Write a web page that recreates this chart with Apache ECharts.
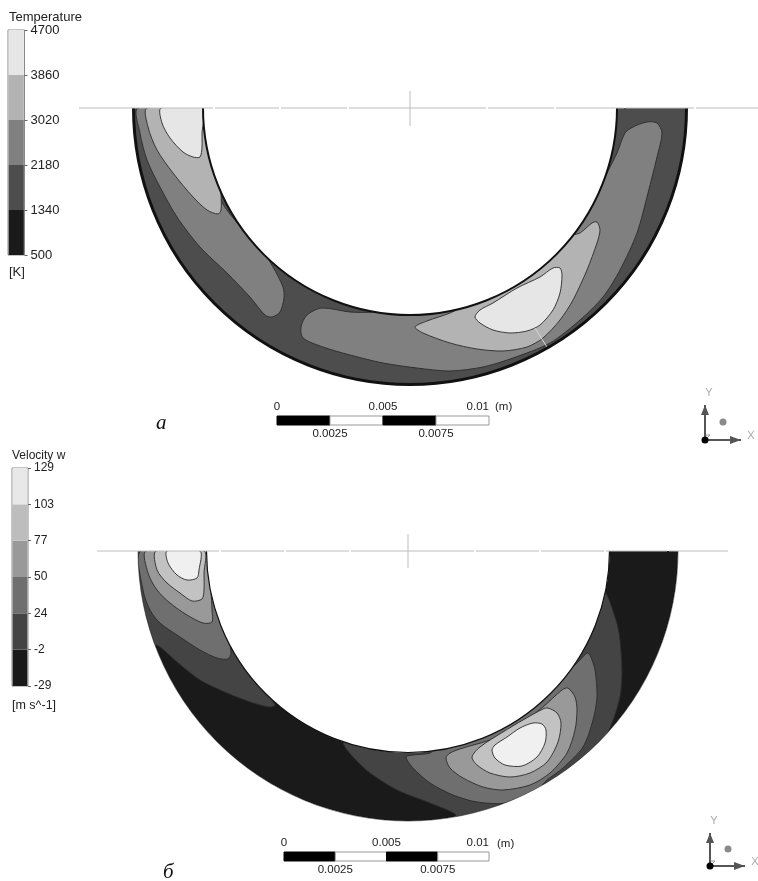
<!DOCTYPE html>
<html><head><meta charset="utf-8">
<style>html,body{margin:0;padding:0;background:#fff}#c{width:758px;height:881px}</style>
<script src="https://cdn.jsdelivr.net/npm/echarts@6/dist/echarts.min.js"></script>
</head><body><div id="c"></div>
<script>
// Scene coordinates: offset from the axis of each annulus, y pointing down
const tempLevels = ['500','1340','2180','3020','3860','4700'];
const tempColors = ['#1a1a1a','#4d4d4d','#808080','#b3b3b3','#e6e6e6'];
const velLevels = ['-29','-2','24','50','77','103','129'];
const velColors = ['#1a1a1a','#444444','#6f6f6f','#999999','#bdbdbd','#e8e8e8'];
const scaleTopTicks = ['0','0.005','0.01'];
const scaleBottomTicks = ['0.0025','0.0075'];

const tempRing = {outer:276.5, inner:207};
const velRing = {outer:270, inner:201.5};

// Temperature contours
const tempGrayLeft = [[-272,0],[-270,25],[-263,52],[-250,79],[-233,109],[-210,139],[-183,165],[-160,189],[-145,207],[-138,209],[-130,204],[-126,190],[-127,179],[-137,159],[-148,142],[-165,124],[-190,90],[-195,40],[-197,0]];
const tempLightLeft = [[-263,0],[-262,19],[-253,42],[-237,65],[-217,89],[-203,102],[-192,106],[-189,102],[-189,85],[-190,60],[-198,30],[-198,0]];
const tempCoreLeft = [[-249,0],[-248,15],[-240,30],[-227,44],[-217,49],[-210,49],[-208,39],[-208,25],[-207,0]];
const tempGrayRight = [[252,25],[247,49],[238,85],[227,125],[210,162],[193,189],[170,212],[140,235],[103,250],[73,259],[40,263],[7,260],[-27,255],[-60,247],[-87,239],[-107,230],[-109,219],[-103,207],[-88,200],[-60,204],[-35,204],[-10,200],[100,170],[180,98],[200,59],[207,45],[215,25],[223,19],[237,14],[247,15]];
const tempLightRight = [[5,219],[13,225],[40,235],[67,241],[93,243],[117,239],[133,230],[150,212],[163,192],[177,162],[187,135],[190,122],[187,114],[182,115],[170,125],[160,128],[100,175],[60,195],[40,205],[17,213]];
const tempCoreRight = [[65,209],[70,215],[83,222],[100,225],[117,223],[130,217],[143,202],[150,185],[152,167],[150,160],[143,160],[130,169],[107,180],[83,195],[70,202]];
const tempStreak = [[125,220],[137,239]];

// Velocity contours
const velBand2Left = [[-275,0],[-270,60],[-255,98],[-251,94],[-231,111],[-208,129],[-181,142],[-155,152],[-138,156],[-133,154],[-150,130],[-190,60],[-195,0]];
const velBand3Left = [[-267,0],[-265,39],[-258,59],[-248,72],[-228,86],[-208,99],[-191,107],[-180,108],[-177,102],[-180,85],[-195,40],[-197,0]];
const velBand4Left = [[-262,0],[-260,22],[-251,39],[-238,52],[-221,64],[-205,72],[-196,71],[-196,59],[-197,40],[-198,0]];
const velBand5Left = [[-252,0],[-251,19],[-241,32],[-228,42],[-216,50],[-206,48],[-204,39],[-204,22],[-204,0]];
const velBand6Left = [[-241,0],[-240,12],[-231,24],[-221,29],[-211,27],[-209,19],[-208,0]];
const velBand2Right = [[195,40],[208,69],[212,89],[214,122],[212,146],[204,172],[190,200],[150,235],[100,258],[50,270],[47,263],[22,252],[-11,239],[-38,222],[-55,206],[-65,192],[-60,185],[0,190],[100,165],[170,100]];
const velBand3Right = [[-2,206],[5,217],[22,232],[45,244],[69,251],[99,252],[129,239],[139,229],[155,217],[175,196],[185,169],[189,146],[187,119],[182,104],[179,102],[172,109],[150,130],[80,180],[30,195],[22,202],[5,204]];
const velBand4Right = [[38,207],[42,217],[55,227],[75,236],[95,239],[122,234],[142,222],[159,202],[167,179],[169,159],[167,146],[160,137],[154,139],[135,156],[109,176],[82,189],[55,197],[42,202]];
const velBand5Right = [[64,206],[69,214],[82,222],[102,226],[122,222],[139,211],[150,191],[153,172],[149,162],[140,157],[135,158],[115,169],[95,181],[72,196]];
const velBand6Right = [[84,199],[87,207],[97,214],[114,215],[129,206],[137,192],[138,179],[134,173],[125,172],[112,177],[99,186],[87,194]];

// Symmetry line pieces
const tempAxisLine = [[-331,-197],[-195,-131],[-129,-63],[-61,76],[78,144],[146,214],[216,284],[286,348]];
const velAxisLine = [[-311,-189],[-187,-124],[-122,-59],[-57,66],[68,131],[133,196],[198,259],[261,320]];

// Orientation triads: origin, Y tip, X tip, ball
const tempTriad = [[295,332],[295,297],[331,332],[313,314]];
const velTriad = [[302,315],[302,282],[337,315],[320,298]];

const FONT = '"Liberation Sans", Arial, sans-serif';

function contour(pts, idx, fill, stroke, smooth) {
  return {
    type:'custom', coordinateSystem:'cartesian2d', xAxisIndex:idx, yAxisIndex:idx,
    silent:true, clip:false, animation:false, data:pts,
    renderItem(p, api){
      if (p.dataIndex !== 0) return null;
      return {type:'polygon', shape:{points:pts.map(q=>api.coord(q)), smooth: smooth===undefined?0.28:smooth},
        style:{fill, stroke:stroke||'#2a2a2a', lineWidth:0.9}};
    }
  };
}
function ringLayer(ring, idx, mode, fill, edgeOuter, edgeInner) {
  return {
    type:'custom', coordinateSystem:'cartesian2d', xAxisIndex:idx, yAxisIndex:idx,
    silent:true, clip:false, animation:false, data:[[0,0]],
    renderItem(p, api){
      const c = api.coord([0,0]);
      const R = api.size([ring.outer,0])[0], r = api.size([ring.inner,0])[0];
      const sec = (r0,r1,f)=>({type:'sector',shape:{cx:c[0],cy:c[1],r0,r:r1,startAngle:0,endAngle:Math.PI,clockwise:true},style:{fill:f}});
      const arc = (rr,w,col)=>({type:'arc',shape:{cx:c[0],cy:c[1],r:rr,startAngle:0,endAngle:Math.PI,clockwise:true},style:{fill:null,stroke:col,lineWidth:w}});
      if (mode==='base') return sec(r,R,fill);
      return {type:'group',children:[
        sec(0,r,'#fff'),sec(R,R+14,'#fff'),
        {type:'rect',shape:{x:c[0]-R-14,y:c[1]-14,width:2*R+28,height:14},style:{fill:'#fff'}},
        arc(R,edgeOuter,'#111'),arc(r,edgeInner,'#111')]};
    }
  };
}
function linePieces(rows, idx, color) {
  return {
    type:'custom', coordinateSystem:'cartesian2d', xAxisIndex:idx, yAxisIndex:idx,
    silent:true, clip:false, animation:false, data:rows,
    renderItem(p, api){
      const a=api.coord([api.value(0),0]), b=api.coord([api.value(1),0]);
      return {type:'line',shape:{x1:a[0],y1:a[1],x2:b[0],y2:b[1]},style:{stroke:color,lineWidth:1}};
    }
  };
}
function segment(rows, idx, color, w) {
  return {
    type:'custom', coordinateSystem:'cartesian2d', xAxisIndex:idx, yAxisIndex:idx,
    silent:true, clip:false, animation:false, data:[rows[0]],
    renderItem(p, api){
      const a=api.coord(rows[0]), b=api.coord(rows[1]);
      return {type:'line',shape:{x1:a[0],y1:a[1],x2:b[0],y2:b[1]},style:{stroke:color,lineWidth:w}};
    }
  };
}
function triad(t, idx) {
  return {
    type:'custom', coordinateSystem:'cartesian2d', xAxisIndex:idx, yAxisIndex:idx,
    silent:true, clip:false, animation:false, data:[t[0]],
    renderItem(p, api){
      const [o,y,x,b]=t.map(q=>api.coord(q));
      const L=(a,c)=>({type:'line',shape:{x1:a[0],y1:a[1],x2:c[0],y2:c[1]},style:{stroke:'#555',lineWidth:2}});
      return {type:'group',children:[
        L(o,y),L(o,x),
        {type:'polygon',shape:{points:[[y[0],y[1]],[y[0]-4,y[1]+10],[y[0]+4,y[1]+10]]},style:{fill:'#555'}},
        {type:'polygon',shape:{points:[[x[0],x[1]],[x[0]-11,x[1]-4],[x[0]-11,x[1]+4]]},style:{fill:'#555'}},
        {type:'line',shape:{x1:o[0]+1,y1:o[1]-5,x2:o[0]+5,y2:o[1]-5},style:{stroke:'#999',lineWidth:1}},
        {type:'line',shape:{x1:o[0]+5,y1:o[1]-5,x2:o[0]+1,y2:o[1]-1},style:{stroke:'#999',lineWidth:1}},
        {type:'circle',shape:{cx:o[0],cy:o[1],r:3.5},style:{fill:'#000'}},
        {type:'circle',shape:{cx:b[0],cy:b[1],r:3.5},style:{fill:'#8a8a8a'}},
        {type:'text',x:y[0]+4,y:y[1]-12,style:{text:'Y',fill:'#aaa',font:'11px '+FONT,textAlign:'center',textVerticalAlign:'middle'}},
        {type:'text',x:x[0]+10,y:x[1]-4,style:{text:'X',fill:'#aaa',font:'11px '+FONT,textAlign:'center',textVerticalAlign:'middle'}}
      ]};
    }
  };
}
function legendBars(colors, xi, yi) {
  return colors.map((c,i)=>({
    type:'bar', stack:'l'+yi, xAxisIndex:xi, yAxisIndex:yi, data:[1], barWidth:'92%',
    silent:true, animation:false, itemStyle:{color:c}
  }));
}
function scaleBar(idxX, idxY) {
  // alternating black and white quarters of the 0.01 m scale
  const rows=[[0,0.0025,1],[0.0025,0.005,0],[0.005,0.0075,1],[0.0075,0.01,0]];
  return {
    type:'custom', coordinateSystem:'cartesian2d', xAxisIndex:idxX, yAxisIndex:idxY,
    silent:true, animation:false, clip:false, data:rows,
    renderItem(p, api){
      const a=api.coord([api.value(0),0]), b=api.coord([api.value(1),1]);
      return {type:'rect',shape:{x:a[0],y:b[1],width:b[0]-a[0],height:a[1]-b[1]},
        style:{fill:api.value(2)?'#000':'#fff',stroke:api.value(2)?'#000':'#999',lineWidth:1}};
    }
  };
}
const hidden = (min,max,extra)=>Object.assign({type:'value',show:false,min,max,splitLine:{show:false}},extra||{});
const labelTick = arr => v => { const k=Math.round(v); return arr[k]!==undefined?arr[k]:''; };
const fmtTop = v => { const s=scaleTopTicks.find(t=>Math.abs(+t-v)<1e-6); return s===undefined?'':s; };
const fmtBottom = v => { const s=scaleBottomTicks.find(t=>Math.abs(+t-v)<1e-6); return s===undefined?'':s; };
function legendAxis(levels, gi, size, margin){
  return {type:'value',gridIndex:gi,position:'right',min:0,max:levels.length-1,interval:1,
    axisLine:{show:false},splitLine:{show:false},
    axisTick:{show:true,length:3,lineStyle:{color:'#666'}},
    axisLabel:{show:true,margin,color:'#222',fontFamily:FONT,fontSize:size,padding:[4,0,0,0],formatter:labelTick(levels)}};
}
function scaleX(gi,pos,interval,fmt){
  return {type:'value',gridIndex:gi,position:pos,min:0,max:0.01,interval,
    axisLine:{show:false},axisTick:{show:false},splitLine:{show:false},
    axisLabel:{show:true,margin:3,color:'#222',fontFamily:FONT,fontSize:11.5,formatter:fmt,hideOverlap:false,alignMaxLabel:'right',showMinLabel:true,showMaxLabel:true}};
}
const txt=(text,left,top,size,extra)=>({text,left,top,padding:0,textStyle:Object.assign({fontFamily:FONT,fontSize:size,fontWeight:'normal',color:'#222'},extra||{})});

const option = {
  backgroundColor:'#fff', animation:false,
  title:[
    txt('Temperature',9,11,13), txt('[K]',9,266,13), txt('(m)',495,401,11.5),
    txt('Velocity w',12,450,12), txt('[m s^-1]',12,699,12.5), txt('(m)',497,838,11.5),
    txt('а',156,413,21,{fontFamily:'"Liberation Serif", serif',fontStyle:'italic',color:'#111'}),
    txt('б',163,862,21,{fontFamily:'"Liberation Serif", serif',fontStyle:'italic',color:'#111'})
  ],
  grid:[
    {left:0,top:0,width:758,height:440},
    {left:0,top:440,width:758,height:441},
    {left:8,top:30,width:16.5,height:225,show:true,borderColor:'#888',borderWidth:1,backgroundColor:'#fff'},
    {left:12,top:468,width:16,height:218,show:true,borderColor:'#888',borderWidth:1,backgroundColor:'#fff'},
    {left:277,top:416,width:212,height:9},
    {left:284,top:852,width:205,height:9}
  ],
  xAxis:[
    hidden(-410,348,{gridIndex:0}),
    hidden(-408,350,{gridIndex:1}),
    {type:'category',gridIndex:2,show:false,data:['t']},
    {type:'category',gridIndex:3,show:false,data:['v']},
    scaleX(4,'top',0.005,fmtTop),
    scaleX(4,'bottom',0.0025,fmtBottom),
    scaleX(5,'top',0.005,fmtTop),
    scaleX(5,'bottom',0.0025,fmtBottom)
  ],
  yAxis:[
    hidden(-108,332,{gridIndex:0,inverse:true}),
    hidden(-111,330,{gridIndex:1,inverse:true}),
    legendAxis(tempLevels,2,13,6),
    legendAxis(velLevels,3,12,6),
    hidden(0,1,{gridIndex:4}),
    hidden(0,1,{gridIndex:5})
  ],
  series:[
    ringLayer(tempRing,0,'base',tempColors[1]),
    contour(tempGrayLeft,0,tempColors[2]),
    contour(tempLightLeft,0,tempColors[3]),
    contour(tempCoreLeft,0,tempColors[4]),
    contour(tempGrayRight,0,tempColors[2]),
    contour(tempLightRight,0,tempColors[3]),
    contour(tempCoreRight,0,tempColors[4]),
    segment(tempStreak,0,'#d8d8d8',1),
    ringLayer(tempRing,0,'mask',null,3,2),
    linePieces(tempAxisLine,0,'#bdbdbd'),
    segment([[0,-17],[0,18]],0,'#bdbdbd',1),
    triad(tempTriad,0),

    ringLayer(velRing,1,'base',velColors[0]),
    contour(velBand2Left,1,velColors[1]),
    contour(velBand3Left,1,velColors[2]),
    contour(velBand4Left,1,velColors[3]),
    contour(velBand5Left,1,'#c2c2c2'),
    contour(velBand6Left,1,'#f0f0f0'),
    contour(velBand2Right,1,velColors[1]),
    contour(velBand3Right,1,velColors[2]),
    contour(velBand4Right,1,velColors[3]),
    contour(velBand5Right,1,'#c2c2c2'),
    contour(velBand6Right,1,'#f0f0f0'),
    ringLayer(velRing,1,'mask',null,0.5,1.2),
    linePieces(velAxisLine,1,'#bdbdbd'),
    segment([[0,-17],[0,17]],1,'#bdbdbd',1),
    triad(velTriad,1),

    ...legendBars(tempColors,2,2),
    ...legendBars(velColors,3,3),
    scaleBar(4,4),
    scaleBar(6,5)
  ]
};
const chart = echarts.init(document.getElementById('c'),null,{renderer:'canvas'});
chart.setOption(option);
</script></body></html>
